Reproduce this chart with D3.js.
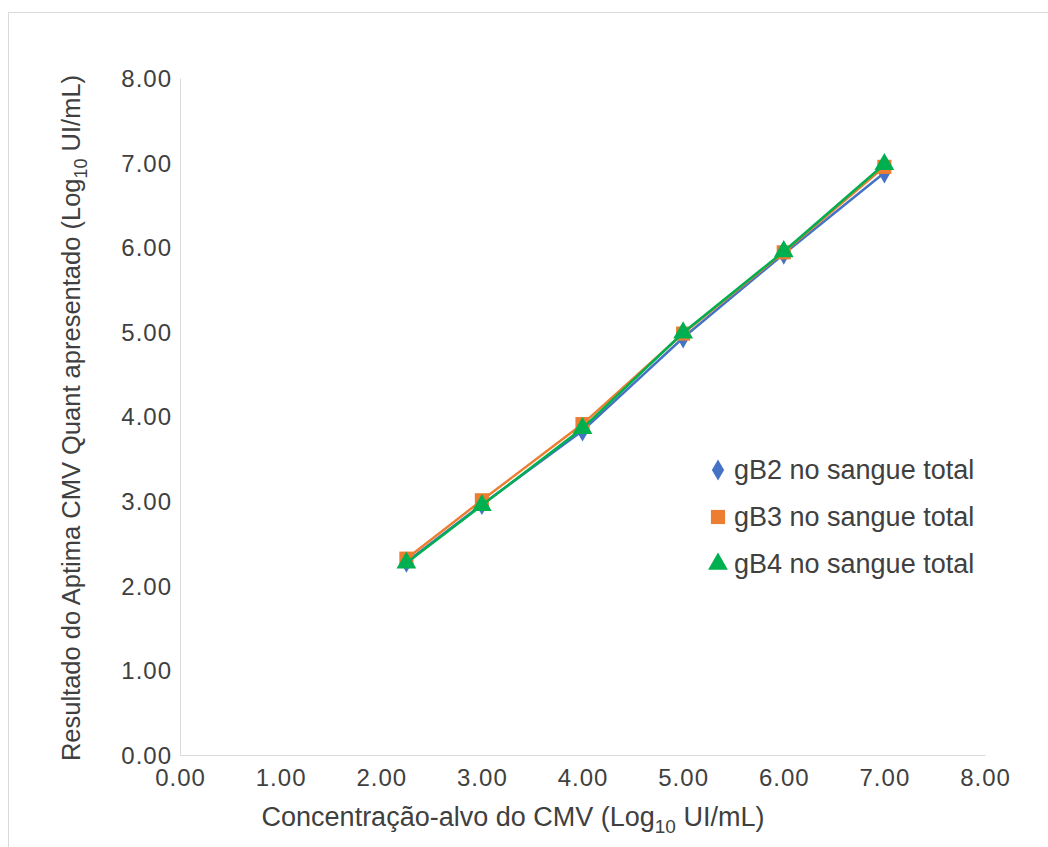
<!DOCTYPE html><html><head><meta charset="utf-8">
<script src="https://cdn.jsdelivr.net/npm/d3@7"></script>
<style>body{margin:0;background:#fff}text{font-family:Arial,"Liberation Sans",sans-serif;fill:#404040}</style></head><body>
<svg id="c" width="1048" height="847"></svg>
<script>
const xVals=[2.25,3,4,5,6,7];
const gB2=[2.28,2.96,3.83,4.93,5.92,6.88];
const gB3=[2.32,3.01,3.91,4.98,5.94,6.95];
const gB4=[2.27,2.95,3.86,4.99,5.95,6.98];
const ticks=[0,1,2,3,4,5,6,7,8];
const series=[{name:"gB2 no sangue total",v:gB2,c:"#4472C4",m:"diamond"},
{name:"gB3 no sangue total",v:gB3,c:"#ED7D31",m:"square"},
{name:"gB4 no sangue total",v:gB4,c:"#00B050",m:"triangle"}];
const svg=d3.select("#c");
svg.append("rect").attr("x",8.5).attr("y",12.5).attr("width",1040).attr("height",840).attr("fill","none").attr("stroke","#d9d9d9");
const x=d3.scaleLinear([0,8],[180,985]), y=d3.scaleLinear([0,8],[755,78]);
const xa=svg.append("g").attr("transform","translate(0,755)").call(d3.axisBottom(x).tickValues(ticks).tickFormat(d3.format(".2f")).tickSize(0).tickPadding(14));
const ya=svg.append("g").attr("transform","translate(180,0)").call(d3.axisLeft(y).tickValues(ticks).tickFormat(d3.format(".2f")).tickSize(0).tickPadding(8));
[xa,ya].forEach(a=>{a.selectAll("path").attr("stroke","#d9d9d9");a.selectAll("text").style("font-size","24px").style("letter-spacing","1px").attr("fill","#404040").style("font-family","Arial,'Liberation Sans',sans-serif");});
ya.selectAll("text").attr("dy","0.35em");
const sym={diamond:d3.symbolDiamond,square:d3.symbolSquare,triangle:d3.symbolTriangle};
const line=d3.line().x((d,i)=>x(xVals[i])).y(d=>y(d));
const sz=m=>m=="square"?200:m=="triangle"?170:130;
series.forEach(s=>{
 svg.append("path").attr("d",line(s.v)).attr("fill","none").attr("stroke",s.c).attr("stroke-width",2.5);
 svg.selectAll(null).data(s.v).join("path").attr("transform",(d,i)=>`translate(${x(xVals[i])},${y(d)})`)
  .attr("d",d3.symbol(sym[s.m],sz(s.m))()).attr("fill",s.c);
});
const lg=svg.append("g");
series.forEach((s,i)=>{
 const yy=470+i*47;
 lg.append("path").attr("transform",`translate(718,${yy})`).attr("d",d3.symbol(sym[s.m],sz(s.m))()).attr("fill",s.c);
 lg.append("text").attr("x",734).attr("y",yy).attr("dy","0.35em").style("font-size","27px").text(s.name);
});
const xl=svg.append("text").attr("x",513).attr("y",826).attr("text-anchor","middle").style("font-size","27px");
xl.append("tspan").text("Concentração-alvo do CMV (Log");
xl.append("tspan").attr("dy",7).style("font-size","19px").text("10");
xl.append("tspan").attr("dy",-7).text(" UI/mL)");
const yl=svg.append("text").attr("transform","translate(80,418) rotate(-90)").attr("text-anchor","middle").style("font-size","25.5px");
yl.append("tspan").text("Resultado do Aptima CMV Quant apresentado (Log");
yl.append("tspan").attr("dy",7).style("font-size","18px").text("10");
yl.append("tspan").attr("dy",-7).text(" UI/mL)");
</script></body></html>
